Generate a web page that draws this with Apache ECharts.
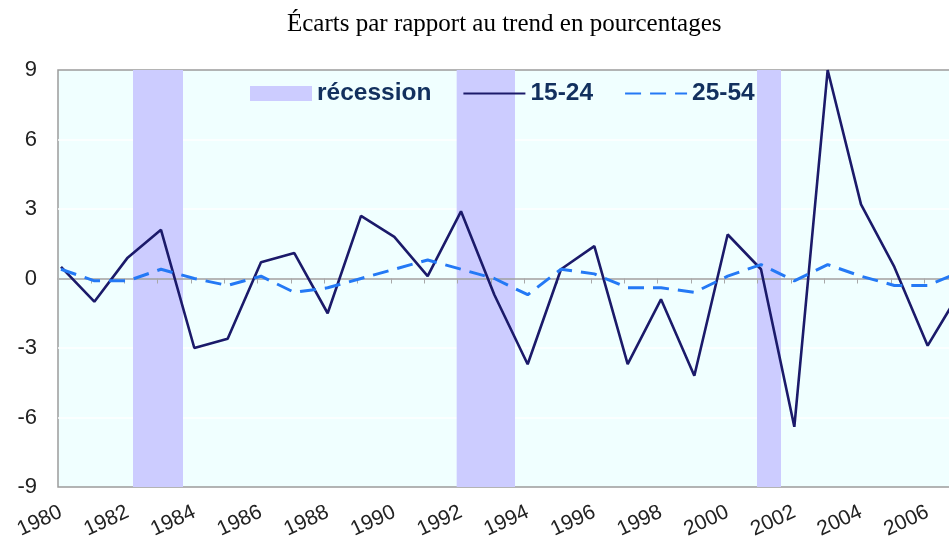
<!DOCTYPE html>
<html>
<head>
<meta charset="utf-8">
<script src="https://cdn.jsdelivr.net/npm/echarts@6/dist/echarts.min.js"></script>
<style>
html,body{margin:0;padding:0;background:#ffffff;}
#c{width:949px;height:546px;}
</style>
</head>
<body>
<div id="c"></div>
<script>
// ---- data ----
const years = [1980,1981,1982,1983,1984,1985,1986,1987,1988,1989,1990,1991,1992,1993,1994,1995,1996,1997,1998,1999,2000,2001,2002,2003,2004,2005,2006,2007];
const youth15_24 = [0.5,-1.0,0.9,2.1,-3.0,-2.6,0.7,1.1,-1.5,2.7,1.8,0.1,2.9,-0.7,-3.7,0.4,1.4,-3.7,-0.9,-4.2,1.9,0.4,-6.4,9.0,3.2,0.5,-2.9,-0.5];
const prime25_54 = [0.4,-0.1,-0.1,0.4,0.0,-0.3,0.1,-0.6,-0.4,0.0,0.4,0.8,0.4,0.0,-0.7,0.4,0.2,-0.4,-0.4,-0.6,0.1,0.6,-0.1,0.6,0.1,-0.3,-0.3,0.3];
const xTickLabels = [1980,1982,1984,1986,1988,1990,1992,1994,1996,1998,2000,2002,2004,2006];
const recessions = [[1982.16,1983.66],[1991.87,1993.62],[2000.88,2001.60]];
const yMin = -9, yMax = 9, yStep = 3;

// ---- view window (the reference is cropped on the right) ----
const X_MIN = 1979.91, X_MAX = 2006.70;
const TICK_SHIFT = -0.1;

const chart = echarts.init(document.getElementById('c'), null, {renderer: 'canvas'});

const option = {
  animation: false,
  backgroundColor: '#ffffff',
  title: {
    text: 'Écarts par rapport au trend en pourcentages',
    left: 282,
    top: 7,
    textStyle: {fontFamily: 'Liberation Serif', fontWeight: 'normal', fontSize: 25, color: '#000000'}
  },
  legend: {
    left: 245,
    top: 76,
    itemWidth: 62,
    itemHeight: 15,
    itemGap: 31,
    itemStyle: {opacity: 0},
    textStyle: {fontFamily: 'Liberation Sans', fontWeight: 'bold', fontSize: 24.5, color: '#12305E'},
    data: [
      {name: 'récession', icon: 'rect', itemStyle: {opacity: 1, color: '#CCCCFF'}},
      {name: '15-24'},
      {name: '25-54'}
    ]
  },
  grid: {
    left: 58, top: 70, right: -2, bottom: 59,
    outerBoundsMode: 'none',
    containLabel: false,
    show: true,
    backgroundColor: '#F0FFFF',
    borderColor: '#9c9c9c',
    borderWidth: 1.5
  },
  xAxis: [
    {
      type: 'value', min: X_MIN, max: X_MAX, position: 'bottom',
      axisLine: {show: false, onZero: false},
      axisTick: {show: false},
      splitLine: {show: false},
      axisLabel: {
        customValues: xTickLabels,
        rotate: 25,
        margin: 24,
        fontSize: 21,
        color: '#222222',
        fontFamily: 'Liberation Sans',
        formatter: function (v) { return String(Math.round(v)); }
      }
    },
    {
      type: 'value', min: X_MIN, max: X_MAX, position: 'bottom', z: 1.5,
      axisLine: {show: true, onZero: true, lineStyle: {color: '#a0a0a0', width: 1.5}},
      axisTick: {show: true, customValues: years.map(function (y) { return y + TICK_SHIFT; }), length: 5, lineStyle: {color: '#a8a8a8', width: 1}},
      axisLabel: {show: false},
      splitLine: {show: false}
    }
  ],
  yAxis: {
    type: 'value', min: yMin, max: yMax, interval: yStep,
    axisLine: {show: false},
    axisTick: {show: false},
    splitLine: {show: true, showMinLine: false, showMaxLine: false, lineStyle: {color: '#ffffff', width: 1.5}},
    axisLabel: {fontSize: 22, color: '#222222', margin: 21, fontFamily: 'Liberation Sans'}
  },
  series: [
    {
      name: 'récession',
      type: 'line',
      z: 1,
      data: [],
      itemStyle: {color: '#CCCCFF'},
      lineStyle: {color: '#CCCCFF'},
      markArea: {
        silent: true,
        itemStyle: {color: '#CCCCFF'},
        data: recessions.map(function (r) { return [{xAxis: r[0]}, {xAxis: r[1]}]; })
      }
    },
    {
      name: '15-24',
      type: 'line',
      data: years.map(function (y, i) { return [y, youth15_24[i]]; }),
      symbol: 'none',
      clip: true,
      itemStyle: {color: '#1B1A6A'},
      lineStyle: {color: '#1B1A6A', width: 2.6}
    },
    {
      name: '25-54',
      type: 'line',
      data: years.map(function (y, i) { return [y, prime25_54[i]]; }),
      symbol: 'none',
      clip: true,
      itemStyle: {color: '#2479F5'},
      lineStyle: {color: '#2479F5', width: 3, type: [16, 9]}
    }
  ]
};

chart.setOption(option);
</script>
</body>
</html>
